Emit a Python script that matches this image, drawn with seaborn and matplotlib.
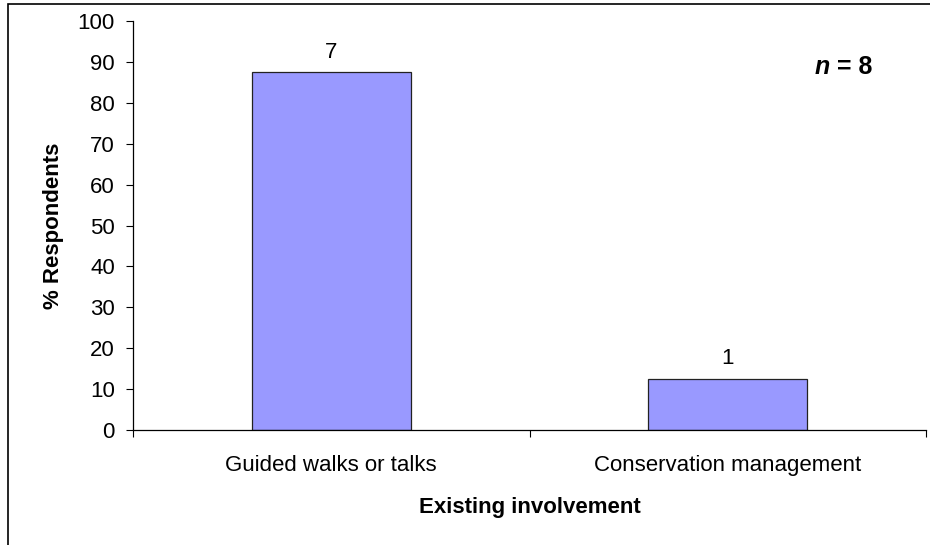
import matplotlib
matplotlib.use("Agg")
import matplotlib.pyplot as plt
import seaborn as sns
import pandas as pd
from matplotlib.patches import Rectangle
from matplotlib.ticker import FixedLocator

categories = ["Guided walks or talks", "Conservation management"]
percent = [87.5, 12.5]
counts = [7, 1]
yticks = list(range(0, 101, 10))

sns.set_theme(style="white")
plt.rcParams['font.family'] = ['Liberation Sans', 'DejaVu Sans']
plt.rcParams.update({"text.color": "black", "axes.labelcolor": "black",
                     "xtick.color": "black", "ytick.color": "black"})

fig = plt.figure(figsize=(9.3, 5.45), dpi=100)
ax = fig.add_axes([133/930, 1-430/545, (926-133)/930, (430-21)/545])

df = pd.DataFrame({"cat": categories, "pct": percent})
sns.barplot(data=df, x="cat", y="pct", ax=ax, color="#9999FF", saturation=1,
            width=0.4, edgecolor="#222222", linewidth=0.9)

for i, (v, c) in enumerate(zip(percent, counts)):
    ax.text(i, v + 2.3, str(c), ha="center", va="bottom", fontsize=16, color="black")

ax.set_xlim(-0.5, 1.5)
ax.set_ylim(0, 100)
ax.set_yticks(yticks)
ax.set_yticklabels([str(t) for t in yticks], fontsize=16)
ax.tick_params(axis="y", direction="out", length=5, width=0.8, color="black", pad=8, left=True)
ax.tick_params(axis="x", which="major", length=0, pad=18, labelsize=16, bottom=True)
ax.xaxis.set_minor_locator(FixedLocator([-0.5, 0.5, 1.5]))
ax.tick_params(axis="x", which="minor", direction="out", length=5, width=0.8, color="black", bottom=True)

for s in ["top", "right"]:
    ax.spines[s].set_visible(False)
for s in ["left", "bottom"]:
    ax.spines[s].set_color("black")
    ax.spines[s].set_linewidth(0.9)

ax.set_xlabel("Existing involvement", fontsize=16, fontweight="bold", labelpad=15)
ax.set_ylabel("% Respondents", fontsize=16, fontweight="bold", labelpad=10)

fig.text(830/930, 1-67/545, "n", ha="right", va="center", fontsize=18,
         fontweight="bold", fontstyle="italic")
fig.text(830/930, 1-67/545, " = 8", ha="left", va="center", fontsize=18, fontweight="bold")

fig.patches.append(Rectangle((8/930, -0.05), 1.2, 1 - 3.5/545 + 0.05, transform=fig.transFigure,
                             fill=False, edgecolor="black", linewidth=1.2, zorder=0))

fig.savefig("out.png", dpi=100)
